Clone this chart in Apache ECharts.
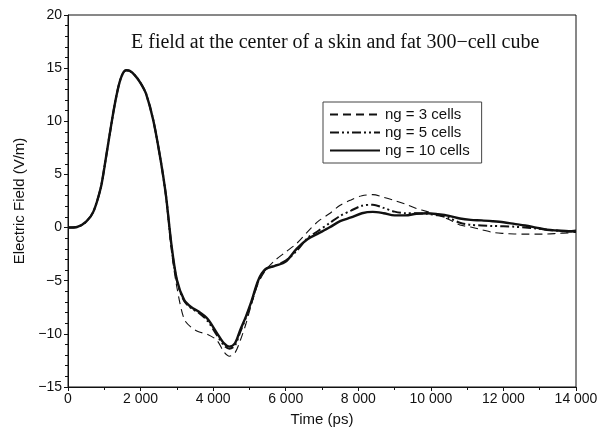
<!DOCTYPE html>
<html>
<head>
<meta charset="utf-8">
<script src="https://cdn.jsdelivr.net/npm/echarts@6/dist/echarts.min.js"></script>
<style>
  html, body { margin: 0; padding: 0; background: #fff; }
  #chart { width: 601px; height: 427px; }
</style>
</head>
<body>
<div id="chart"></div>
<script>
// time in ps
const times = [0, 250, 500, 700, 900, 1000, 1150, 1300, 1450, 1600, 1700, 1850, 2000, 2150, 2350, 2550, 2700,
  2850, 3000, 3200, 3400, 3600, 3850, 4100, 4300, 4450, 4600, 4750, 4900, 5050, 5250, 5450, 5700, 6000,
  6300, 6600, 6900, 7200, 7500, 7800, 8100, 8400, 8700, 9000, 9300, 9600, 9900, 10200, 10500, 10800,
  11100, 11400, 11700, 12000, 12300, 12600, 12900, 13200, 13500, 13800, 14000];

// common rising part (0 .. 2700 ps), identical for all three
const rise = [0, 0.05, 0.55, 1.5, 3.7, 5.6, 8.8, 11.8, 14.0, 14.8, 14.75, 14.3, 13.6, 12.6, 10.1, 6.4, 3.0];

const ng3 = rise.slice(0, 16).concat([2.8,
  -2.2, -5.6, -8.6, -9.4, -9.8, -10.05, -10.6, -11.7, -12.1, -11.8, -10.6, -9.1, -7.3, -5.2, -4.0, -3.1, -2.3,
  -1.5, -0.4, 0.6, 1.3, 2.1, 2.6, 3.0, 3.1, 2.85, 2.55, 2.2, 1.8, 1.5, 1.2, 0.75, 0.25,
  0.05, -0.2, -0.45, -0.55, -0.6, -0.62, -0.62, -0.6, -0.55, -0.5, -0.45]);

const ng5 = rise.concat([
  -1.7, -5.0, -6.9, -7.6, -8.0, -8.8, -10.1, -11.1, -11.4, -11.1, -9.8, -8.5, -7.1, -5.0, -3.9, -3.6, -3.1,
  -2.2, -1.0, -0.3, 0.4, 1.1, 1.6, 2.05, 2.15, 1.85, 1.5, 1.35, 1.35, 1.3, 1.15, 0.9, 0.45,
  0.25, 0.2, 0.15, 0.12, 0.08, 0.0, -0.08, -0.2, -0.3, -0.38, -0.35]);

const ng10 = rise.concat([
  -1.6, -4.9, -6.8, -7.5, -7.9, -8.6, -9.9, -10.9, -11.2, -10.9, -9.6, -8.4, -7.0, -4.9, -3.9, -3.6, -3.2,
  -2.0, -1.1, -0.55, 0.0, 0.6, 0.95, 1.35, 1.48, 1.35, 1.15, 1.15, 1.3, 1.35, 1.25, 1.1, 0.85,
  0.72, 0.68, 0.6, 0.5, 0.35, 0.2, 0.0, -0.2, -0.28, -0.35, -0.3]);

const seriesNames = ['ng = 3 cells', 'ng = 5 cells', 'ng = 10 cells'];
const xTicks = [0, 2000, 4000, 6000, 8000, 10000, 12000, 14000];
const yTicks = [-15, -10, -5, 0, 5, 10, 15, 20];

function pairs(vals) {
  return times.map((t, i) => [t, vals[i]]);
}

const chart = echarts.init(document.getElementById('chart'), null, { renderer: 'canvas' });

const sans = 'Liberation Sans, Arial, sans-serif';

const option = {
  animation: false,
  backgroundColor: '#ffffff',
  title: {
    text: 'E field at the center of a skin and fat 300\u2212cell cube',
    left: 126,
    top: 28,
    textStyle: {
      fontFamily: 'Liberation Serif, Times New Roman, serif',
      fontSize: 20,
      fontWeight: 'normal',
      color: '#111'
    }
  },
  legend: {
    orient: 'vertical',
    left: 323,
    top: 102,
    padding: [5, 12, 5, 6],
    itemGap: 3,
    itemWidth: 50,
    itemHeight: 15,
    borderColor: '#444',
    borderWidth: 1,
    itemStyle: { opacity: 0 },
    textStyle: { fontFamily: sans, fontSize: 15, color: '#111' },
    data: seriesNames
  },
  grid: {
    left: 68,
    right: 25,
    top: 15,
    bottom: 40,
    outerBoundsMode: 'none',
    show: true,
    borderColor: '#111',
    borderWidth: 1
  },
  xAxis: {
    type: 'value',
    min: 0,
    max: 14000,
    interval: 2000,
    name: 'Time (ps)',
    nameLocation: 'middle',
    nameGap: 25,
    nameTextStyle: { fontFamily: sans, fontSize: 15, color: '#111' },
    axisLine: { onZero: false, lineStyle: { color: '#111', width: 1 } },
    axisTick: { length: 4, lineStyle: { color: '#111' } },
    minorTick: { show: true, splitNumber: 2, length: 3, lineStyle: { color: '#111' } },
    splitLine: { show: false },
    axisLabel: {
      fontFamily: sans, fontSize: 14, color: '#111', margin: 5,
      formatter: v => xTicks.indexOf(v) >= 0 ? String(v).replace(/\B(?=(\d{3})+(?!\d))/g, ' ') : ''
    }
  },
  yAxis: {
    type: 'value',
    min: -15,
    max: 20,
    interval: 5,
    name: 'Electric Field (V/m)',
    nameLocation: 'middle',
    nameGap: 41,
    nameTextStyle: { fontFamily: sans, fontSize: 15, color: '#111' },
    axisLine: { show: true, onZero: false, lineStyle: { color: '#111', width: 1 } },
    axisTick: { show: true, length: 4, lineStyle: { color: '#111' } },
    minorTick: { show: true, splitNumber: 5, length: 3, lineStyle: { color: '#111' } },
    splitLine: { show: false },
    axisLabel: {
      fontFamily: sans, fontSize: 14, color: '#111', margin: 6,
      formatter: v => yTicks.indexOf(v) >= 0 ? String(v).replace('-', '\u2212') : ''
    }
  },
  series: [
    {
      name: seriesNames[0],
      type: 'line',
      data: pairs(ng3),
      showSymbol: false,
      symbol: 'none',
      smooth: 0.3,
      color: '#111',
      lineStyle: { color: '#111', width: 1.1, type: [8, 5] }
    },
    {
      name: seriesNames[1],
      type: 'line',
      data: pairs(ng5),
      showSymbol: false,
      symbol: 'none',
      smooth: 0.3,
      color: '#111',
      lineStyle: { color: '#111', width: 2, type: [9, 3, 2, 3, 2, 3] }
    },
    {
      name: seriesNames[2],
      type: 'line',
      data: pairs(ng10),
      showSymbol: false,
      symbol: 'none',
      smooth: 0.3,
      color: '#111',
      lineStyle: { color: '#111', width: 2.4 }
    }
  ]
};

chart.setOption(option);
window.addEventListener('resize', chart.resize);
</script>
</body>
</html>
